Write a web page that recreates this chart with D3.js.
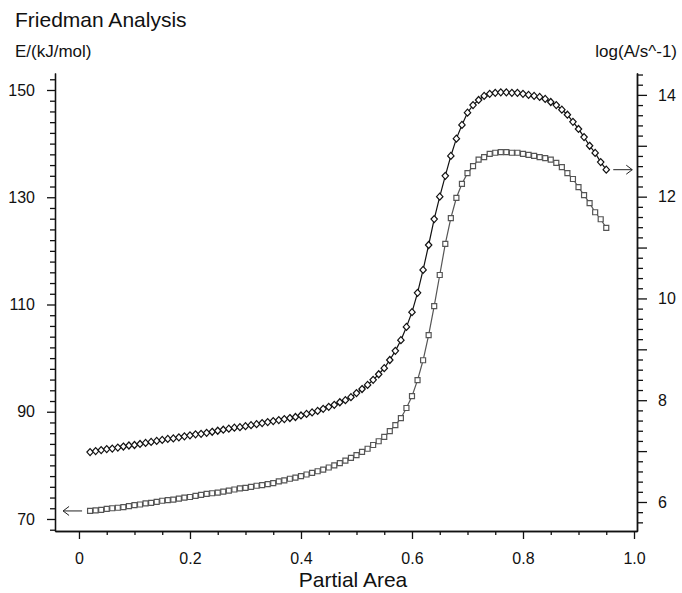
<!DOCTYPE html>
<html>
<head>
<meta charset="utf-8">
<script src="https://cdn.jsdelivr.net/npm/d3@7"></script>
<style>
  body { margin: 0; background: #fff; }
  svg { display: block; font-family: "Liberation Sans", Arial, sans-serif; }
</style>
</head>
<body>
<svg id="drawing_region"></svg>
<script>
// partial area (x), shared by both curves
const partialArea = [
    0.02, 0.03, 0.04, 0.05, 0.06, 0.07, 0.08, 0.09, 0.10, 0.11,
    0.12, 0.13, 0.14, 0.15, 0.16, 0.17, 0.18, 0.19, 0.20, 0.21,
    0.22, 0.23, 0.24, 0.25, 0.26, 0.27, 0.28, 0.29, 0.30, 0.31,
    0.32, 0.33, 0.34, 0.35, 0.36, 0.37, 0.38, 0.39, 0.40, 0.41,
    0.42, 0.43, 0.44, 0.45, 0.46, 0.47, 0.48, 0.49, 0.50, 0.51,
    0.52, 0.53, 0.54, 0.55, 0.56, 0.57, 0.58, 0.59, 0.60, 0.61,
    0.62, 0.63, 0.64, 0.65, 0.66, 0.67, 0.68, 0.69, 0.70, 0.71,
    0.72, 0.73, 0.74, 0.75, 0.76, 0.77, 0.78, 0.79, 0.80, 0.81,
    0.82, 0.83, 0.84, 0.85, 0.86, 0.87, 0.88, 0.89, 0.90, 0.91,
    0.92, 0.93, 0.94, 0.95
];

// E/(kJ/mol), left axis, squares
const energy = [
    71.5, 71.6, 71.7, 71.9, 72.0, 72.1, 72.2, 72.4, 72.6, 72.7,
    72.9, 73.0, 73.2, 73.4, 73.5, 73.6, 73.8, 74.0, 74.1, 74.3,
    74.5, 74.7, 74.8, 74.9, 75.1, 75.3, 75.5, 75.7, 75.8, 76.0,
    76.2, 76.3, 76.5, 76.7, 77.0, 77.2, 77.5, 77.7, 78.0, 78.3,
    78.6, 78.9, 79.2, 79.6, 80.0, 80.4, 80.9, 81.4, 81.9, 82.5,
    83.1, 83.8, 84.5, 85.3, 86.4, 87.5, 88.8, 90.7, 92.9, 95.9,
    99.6, 104.3, 109.7, 115.5, 121.3, 126.1, 129.9, 132.5, 134.5, 135.8,
    137.0, 137.5, 138.1, 138.3, 138.4, 138.4, 138.3, 138.3, 138.1, 137.9,
    137.7, 137.5, 137.3, 137.0, 136.4, 135.6, 134.5, 133.4, 131.9, 130.4,
    128.9, 127.2, 125.9, 124.3
];

// log(A/s^-1), right axis, diamonds
const logA = [
    6.98, 7.00, 7.02, 7.04, 7.05, 7.07, 7.09, 7.11, 7.12, 7.14,
    7.16, 7.18, 7.20, 7.22, 7.24, 7.25, 7.27, 7.29, 7.31, 7.33,
    7.34, 7.36, 7.38, 7.40, 7.42, 7.44, 7.46, 7.47, 7.49, 7.51,
    7.53, 7.55, 7.57, 7.59, 7.61, 7.63, 7.65, 7.67, 7.70, 7.73,
    7.76, 7.79, 7.83, 7.87, 7.91, 7.96, 8.00, 8.06, 8.14, 8.22,
    8.30, 8.40, 8.51, 8.63, 8.79, 8.97, 9.18, 9.44, 9.73, 10.11,
    10.56, 11.05, 11.56, 12.00, 12.41, 12.80, 13.14, 13.41, 13.65, 13.80,
    13.90, 13.98, 14.02, 14.04, 14.05, 14.05, 14.04, 14.04, 14.02, 14.00,
    13.98, 13.96, 13.92, 13.86, 13.80, 13.71, 13.61, 13.47, 13.33, 13.17,
    13.00, 12.86, 12.68, 12.53
];

const xTicks = [0, 0.2, 0.4, 0.6, 0.8, 1.0];
const xTickLabels = ['0', '0.2', '0.4', '0.6', '0.8', '1.0'];
const energyTicks = [70, 90, 110, 130, 150];
const logATicks = [6, 8, 10, 12, 14];

class FriedmanPlot {
    constructor(config) {
        this.config = config;
        this.init();
    }

    init() {
        let self = this;
        const c = self.config;

        self.svg = d3.select(c.parent)
            .attr('width', c.width)
            .attr('height', c.height);

        self.xscale = d3.scaleLinear()
            .domain([-0.0432, 1.0054])
            .range([c.plot.left, c.plot.right]);

        self.yscaleE = d3.scaleLinear()
            .domain([67.76, 153.17])
            .range([c.plot.bottom, c.plot.top]);

        self.yscaleA = d3.scaleLinear()
            .domain([5.43, 14.43])
            .range([c.plot.bottom, c.plot.top]);

        self.data = partialArea.map((x, i) => ({ x: x, e: energy[i], a: logA[i] }));
    }

    render() {
        let self = this;
        const c = self.config;

        // bottom axis
        const xminor = d3.range(0, 1.001, 0.05).filter(v => !xTicks.some(t => Math.abs(t - v) < 1e-6));
        const gx = self.svg.append('g').attr('transform', `translate(0, ${c.plot.bottom})`);
        gx.append('g').call(d3.axisBottom(self.xscale).tickValues(xminor).tickSize(4).tickSizeOuter(0).tickFormat(''));
        gx.append('g').call(d3.axisBottom(self.xscale).tickValues(xTicks).tickSize(8).tickSizeOuter(0).tickPadding(14)
            .tickFormat((d, i) => xTickLabels[i]));

        // left axis (E)
        const eminor = d3.range(68, 153, 2).filter(v => !energyTicks.includes(v));
        const gl = self.svg.append('g').attr('transform', `translate(${c.plot.left}, 0)`);
        gl.append('g').call(d3.axisLeft(self.yscaleE).tickValues(eminor).tickSize(5).tickSizeOuter(0).tickFormat(''));
        gl.append('g').call(d3.axisLeft(self.yscaleE).tickValues(energyTicks).tickSize(8).tickSizeOuter(0).tickPadding(12));

        // right axis (log A)
        const aminor = d3.range(5.6, 14.45, 0.2).filter(v => Math.abs(v - Math.round(v)) > 1e-6);
        const amid = [7, 9, 11, 13];
        const gr = self.svg.append('g').attr('transform', `translate(${c.plot.right}, 0)`);
        gr.append('g').call(d3.axisRight(self.yscaleA).tickValues(aminor).tickSize(6).tickSizeOuter(0).tickFormat(''));
        gr.append('g').call(d3.axisRight(self.yscaleA).tickValues(amid).tickSize(10).tickSizeOuter(0).tickFormat(''));
        gr.append('g').call(d3.axisRight(self.yscaleA).tickValues(logATicks).tickSize(10).tickSizeOuter(0).tickPadding(11));

        self.svg.selectAll('.tick text')
            .attr('font-size', 16)
            .attr('font-family', '"Liberation Sans", Arial, sans-serif')
            .attr('fill', '#111');
        self.svg.selectAll('.domain, .tick line')
            .attr('stroke', '#111')
            .attr('stroke-width', 1.3);

        // curves
        const lineE = d3.line().x(d => self.xscale(d.x)).y(d => self.yscaleE(d.e));
        const lineA = d3.line().x(d => self.xscale(d.x)).y(d => self.yscaleA(d.a));

        self.svg.append('path')
            .datum(self.data)
            .attr('d', lineE)
            .attr('fill', 'none')
            .attr('stroke', '#555')
            .attr('stroke-width', 1.2);

        self.svg.append('path')
            .datum(self.data)
            .attr('d', lineA)
            .attr('fill', 'none')
            .attr('stroke', '#111')
            .attr('stroke-width', 1.2);

        self.svg.append('g').selectAll('path')
            .data(self.data)
            .join('path')
            .attr('transform', d => `translate(${self.xscale(d.x)}, ${self.yscaleE(d.e)})`)
            .attr('d', 'M-2.5,-2.5H2.5V2.5H-2.5Z')
            .attr('fill', '#fff')
            .attr('stroke', '#555')
            .attr('stroke-width', 1.2);

        self.svg.append('g').selectAll('path')
            .data(self.data)
            .join('path')
            .attr('transform', d => `translate(${self.xscale(d.x)}, ${self.yscaleA(d.a)})`)
            .attr('d', 'M0,-3.5L3.2,0L0,3.5L-3.2,0Z')
            .attr('fill', '#fff')
            .attr('stroke', '#111')
            .attr('stroke-width', 1.2);

        // arrows showing which axis each curve uses
        const first = self.data[0];
        const last = self.data[self.data.length - 1];
        const ly = self.yscaleE(first.e);
        const lx = self.xscale(first.x);
        self.svg.append('path')
            .attr('d', `M${lx - 8},${ly}H${lx - 27}M${lx - 21},${ly - 4.5}L${lx - 27},${ly}L${lx - 21},${ly + 4.5}`)
            .attr('fill', 'none')
            .attr('stroke', '#222')
            .attr('stroke-width', 1);
        const ry = self.yscaleA(last.a);
        const rx = self.xscale(last.x);
        self.svg.append('path')
            .attr('d', `M${rx + 7},${ry}H${rx + 26}M${rx + 20},${ry - 4.5}L${rx + 26},${ry}L${rx + 20},${ry + 4.5}`)
            .attr('fill', 'none')
            .attr('stroke', '#222')
            .attr('stroke-width', 1);

        // texts
        self.svg.append('text')
            .attr('x', 15).attr('y', 27)
            .attr('font-size', 21)
            .attr('fill', '#111')
            .text('Friedman Analysis');

        self.svg.append('text')
            .attr('x', 15).attr('y', 57)
            .attr('font-size', 17)
            .attr('fill', '#111')
            .text('E/(kJ/mol)');

        self.svg.append('text')
            .attr('x', 677).attr('y', 57)
            .attr('text-anchor', 'end')
            .attr('font-size', 17)
            .attr('fill', '#111')
            .text('log(A/s^-1)');

        self.svg.append('text')
            .attr('x', 353).attr('y', 587)
            .attr('text-anchor', 'middle')
            .attr('font-size', 21)
            .attr('fill', '#111')
            .text('Partial Area');
    }
}

const plot = new FriedmanPlot({
    parent: '#drawing_region',
    width: 682,
    height: 593,
    plot: { left: 55, right: 637, top: 73, bottom: 531 }
});
plot.render();
</script>
</body>
</html>
